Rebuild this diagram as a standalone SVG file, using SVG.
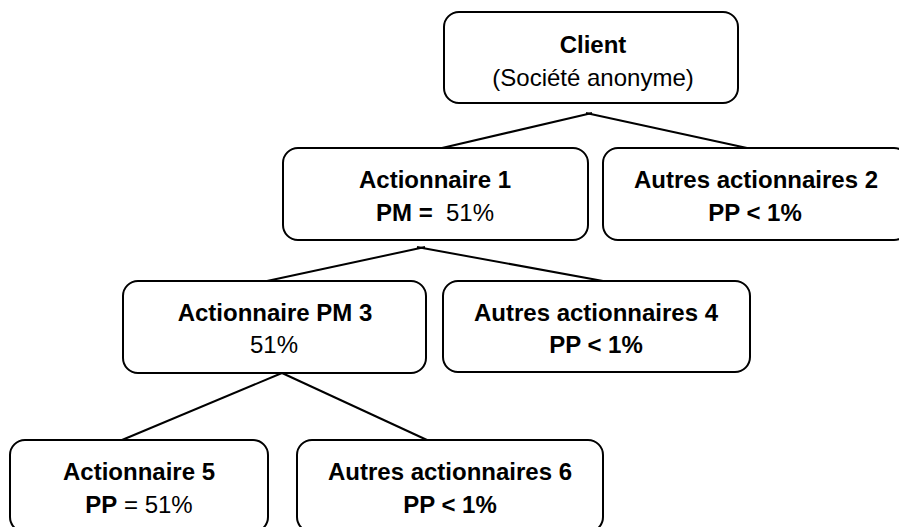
<svg xmlns="http://www.w3.org/2000/svg" width="899" height="527" viewBox="0 0 899 527">
  <style>
    .box { fill: #ffffff; stroke: #000000; stroke-width: 2; }
    .lnk { stroke: #000000; stroke-width: 2; fill: none; }
    text { font-family: "Liberation Sans", Arial, sans-serif; font-size: 24px; fill: #000000; text-anchor: middle; }
    .b { font-weight: bold; }
  </style>
  <rect width="899" height="527" fill="#ffffff"/>
  <g id="connectors">
    <line class="lnk" x1="442" y1="148" x2="592" y2="113"/>
    <line class="lnk" x1="747" y1="148" x2="586" y2="113"/>
    <line class="lnk" x1="267" y1="281" x2="425" y2="247"/>
    <line class="lnk" x1="603" y1="281" x2="417" y2="247"/>
    <line class="lnk" x1="122" y1="440" x2="282" y2="373"/>
    <line class="lnk" x1="427" y1="440" x2="282" y2="373"/>
  </g>
  <g id="client">
    <rect class="box" x="444" y="12" width="294" height="91" rx="15"/>
    <text x="593" y="53" class="b">Client</text>
    <text x="593" y="86">(Société anonyme)</text>
  </g>
  <g id="actionnaire1">
    <rect class="box" x="283" y="148" width="305" height="92" rx="15"/>
    <text x="435" y="188" class="b">Actionnaire 1</text>
    <text x="435" y="221" xml:space="preserve"><tspan class="b">PM = </tspan> 51%</text>
  </g>
  <g id="autres2">
    <rect class="box" x="603" y="148" width="306" height="92" rx="15"/>
    <text x="756" y="188" class="b">Autres actionnaires 2</text>
    <text x="755" y="221" class="b">PP &lt; 1%</text>
  </g>
  <g id="actionnairePM3">
    <rect class="box" x="123" y="281" width="303" height="92" rx="15"/>
    <text x="275" y="321" class="b">Actionnaire PM 3</text>
    <text x="274" y="353">51%</text>
  </g>
  <g id="autres4">
    <rect class="box" x="443" y="281" width="307" height="91" rx="15"/>
    <text x="596" y="321" class="b">Autres actionnaires 4</text>
    <text x="596" y="353" class="b">PP &lt; 1%</text>
  </g>
  <g id="actionnaire5">
    <rect class="box" x="10" y="440" width="258" height="92" rx="15"/>
    <text x="139" y="480" class="b">Actionnaire 5</text>
    <text x="139" y="513" xml:space="preserve"><tspan class="b">PP</tspan> = 51%</text>
  </g>
  <g id="autres6">
    <rect class="box" x="297" y="440" width="306" height="92" rx="15"/>
    <text x="450" y="480" class="b">Autres actionnaires 6</text>
    <text x="450" y="513" class="b">PP &lt; 1%</text>
  </g>
</svg>
